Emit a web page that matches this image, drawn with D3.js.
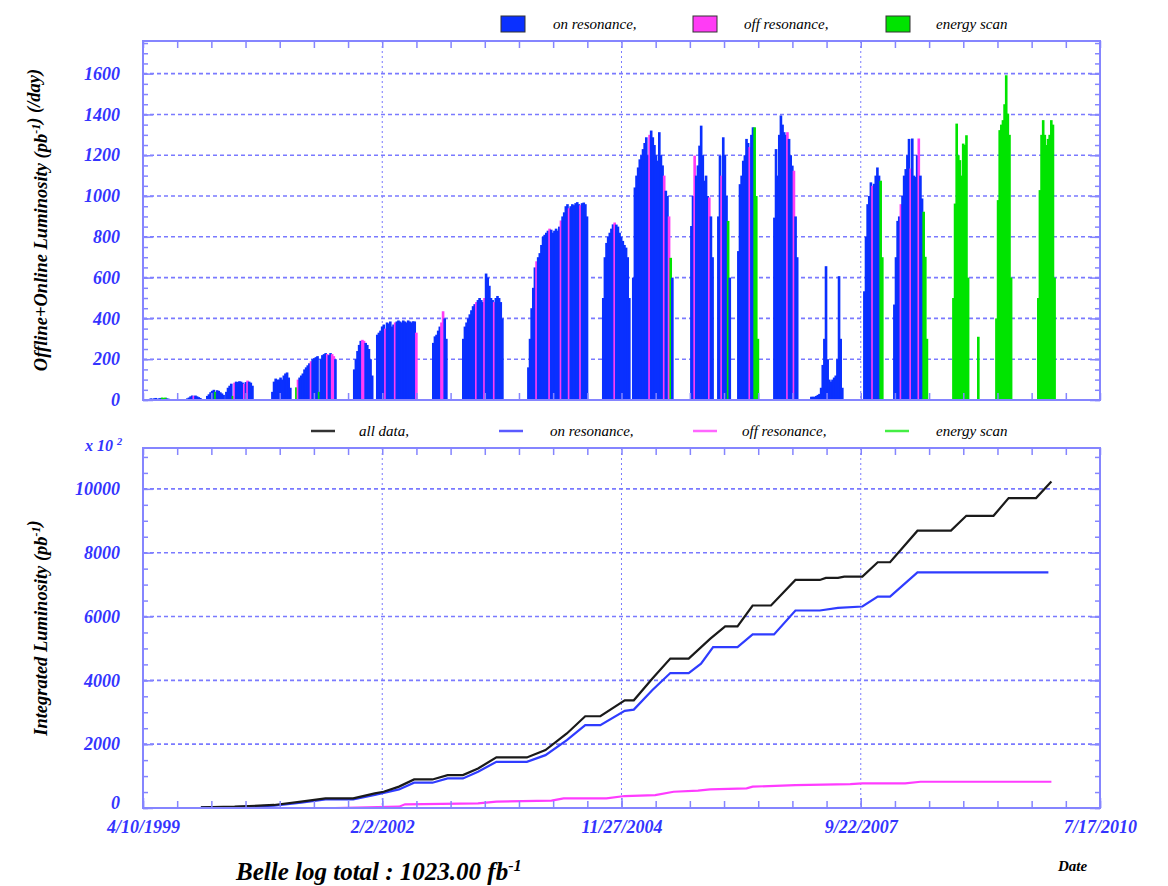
<!DOCTYPE html>
<html>
<head>
<meta charset="utf-8">
<script src="https://cdn.jsdelivr.net/npm/d3@7"></script>
<style>
  body { margin: 0; background: #fff; }
  text { font-family: "Liberation Serif", "Times New Roman", serif; font-style: italic; }
</style>
</head>
<body>
<div id="chart"></div>
<script>
// ---- daily luminosity, one value per week inside each running period ----
// b = on resonance, m = off resonance, g = energy scan
const runStarts = ["1999-05-01", "1999-10-12", "2000-01-06", "2000-03-28", "2000-10-12", "2001-01-23",
  "2001-09-29", "2002-01-06", "2002-09-04", "2003-01-11", "2003-10-18", "2004-09-04", "2005-01-11",
  "2005-09-18", "2006-01-12", "2006-04-08", "2006-09-10", "2007-02-16", "2007-10-02", "2008-02-08",
  "2008-10-19", "2009-02-03", "2009-04-22", "2009-10-19"];

const runValues = [
  [5, 8, 6, 8, 10, 6, 8, 10, 12, 10, 12, 8, 6],
  [8, 12, 18, 22, 20, 22, 18, 14, 10],
  [20, 28, 38, 45, 50, 40, 48, 45, 38, 32, 25],
  [40, 60, 70, 80, 20, 85, 90, 88, 92, 90, 85, 80, 88, 95, 90, 85, 70],
  [40, 90, 105, 100, 100, 110, 100, 120, 130, 135, 110, 60],
  [62, 100, 110, 120, 130, 150, 160, 170, 180, 190, 200, 205, 210, 215, 40, 200, 220, 225, 230, 225, 220, 230, 225, 215, 200],
  [150, 200, 240, 270, 290, 295, 290, 280, 270, 250, 200, 120],
  [320, 330, 340, 360, 370, 350, 380, 375, 385, 360, 370, 380, 385, 390, 385, 380, 390, 385, 380, 390, 385, 380, 386, 385, 330],
  [280, 312, 320, 340, 360, 380, 435, 400, 300],
  [300, 360, 380, 400, 420, 440, 460, 470, 480, 490, 500, 490, 480, 500, 620, 600, 560, 500, 490, 480, 500, 510, 500, 480, 400],
  [160, 300, 450, 550, 650, 680, 700, 720, 760, 800, 810, 820, 830, 840, 835, 820, 830, 840, 830, 850, 880, 900, 920, 950, 960, 940, 950, 960, 955, 965, 970, 960, 955, 965, 968, 960, 900],
  [500, 700, 770, 800, 820, 840, 861, 870, 860, 850, 820, 800, 780, 760, 747, 700, 500],
  [600, 1042, 1100, 1140, 1180, 1200, 1230, 1260, 1288, 1200, 1300, 1321, 1288, 1250, 1200, 1173, 1313, 1200, 1150, 1100, 1026, 1000, 900, 697, 600],
  [853, 1000, 1198, 1100, 1150, 1247, 1345, 1200, 1075, 1100, 1000, 993, 900, 700],
  [900, 1198, 1100, 1288, 1200, 1000, 878, 600],
  [730, 1058, 1100, 1173, 1200, 1280, 1260, 1240, 1300, 1337, 1337, 1000, 300],
  [894, 1230, 1100, 1300, 1395, 1350, 1313, 1300, 1313, 1280, 1200, 1149, 1124, 900, 700],
  [16, 16, 16, 20, 25, 30, 60, 172, 300, 656, 200, 100, 90, 100, 110, 120, 200, 607, 300, 60],
  [533, 800, 960, 1000, 1067, 1050, 1060, 1100, 1140, 1100, 1075, 700],
  [468, 700, 878, 900, 960, 1000, 1100, 1132, 1200, 1280, 1135, 1282, 1100, 1094, 1200, 1282, 1100, 988, 923, 702, 300],
  [500, 963, 1355, 1200, 1176, 1100, 1257, 1250, 1298, 600],
  [310],
  [400, 980, 1323, 1350, 1372, 1450, 1592, 1404, 1300, 600],
  [500, 1029, 1300, 1372, 1300, 1250, 1280, 1300, 1372, 1350, 600]
];

const runTypes = [
  "bbbbbbbbgggbb", "bbbbmbbbb", "bbbbbgbbbbb", "bbbbgmbbbbbmbmbbb", "bbbbbbbbbbbb",
  "gmbbbbbbbmbbbbgbbbbmbbmmb", "bbbbbmmbbbbb", "bbbbbmbbbbbmbbbbbbbbbbbbm", "bbbbbmmbb",
  "bbbbbbbbmbbbbmbbbbbmbbbbb", "bbbbbmbbbbbbbmbbbbbbmbbbbmbbbbbbmbbbb", "bbbbbbbmbbbbbbbbb",
  "bbbbbbbbbbmbbbbbbbbmbbmgb", "bbmbbbbbbbbmbb", "bbmbbbgb", "bbbbbbbmbbggg", "bbbbbbbbmbbbmbb",
  "bbbbbbbbbbbbbbbbbbbb", "bbbbbmbbbbgg", "bbbbmbbbbbmbbbbmbbggg", "gggggggggg", "g",
  "gggggggggg", "ggggggggggg"
];

// ---- integrated luminosity (x 10^2 pb^-1) ----
const allData = [["1999-12-15", 20], ["2000-05-08", 40], ["2000-10-25", 95], ["2001-02-18", 200],
  ["2001-06-03", 300], ["2001-09-30", 300], ["2002-01-01", 460], ["2002-02-08", 510], ["2002-04-15", 670],
  ["2002-06-19", 895], ["2002-09-06", 895], ["2002-11-10", 1030], ["2003-01-15", 1030], ["2003-03-21", 1240],
  ["2003-06-08", 1585], ["2003-10-17", 1585], ["2004-01-05", 1815], ["2004-04-06", 2335], ["2004-06-24", 2875],
  ["2004-08-28", 2875], ["2004-12-11", 3375], ["2005-01-19", 3375], ["2005-04-08", 4050], ["2005-06-25", 4680],
  ["2005-09-12", 4680], ["2005-12-13", 5300], ["2006-02-16", 5690], ["2006-04-10", 5690], ["2006-06-14", 6345],
  ["2006-09-01", 6345], ["2006-12-15", 7145], ["2007-03-30", 7145], ["2007-04-25", 7210], ["2007-06-16", 7210],
  ["2007-07-13", 7250], ["2007-09-29", 7250], ["2007-12-04", 7700], ["2008-01-26", 7700], ["2008-05-23", 8690],
  ["2008-10-14", 8690], ["2008-12-19", 9155], ["2009-04-15", 9155], ["2009-06-19", 9710], ["2009-10-15", 9710],
  ["2009-12-20", 10230]];

const onResonance = [["1999-12-15", 20], ["2000-05-08", 30], ["2000-10-25", 73], ["2001-02-18", 167],
  ["2001-06-03", 271], ["2001-09-30", 271], ["2002-01-01", 406], ["2002-04-15", 583], ["2002-06-19", 792],
  ["2002-09-06", 792], ["2002-11-10", 927], ["2003-01-15", 927], ["2003-03-21", 1135], ["2003-06-08", 1448],
  ["2003-10-17", 1448], ["2004-01-05", 1656], ["2004-04-06", 2125], ["2004-06-24", 2594], ["2004-08-28", 2594],
  ["2004-12-11", 3042], ["2005-01-19", 3083], ["2005-04-08", 3688], ["2005-06-25", 4229], ["2005-09-12", 4229],
  ["2005-11-04", 4521], ["2005-12-26", 5042], ["2006-04-10", 5042], ["2006-06-14", 5438], ["2006-09-14", 5438],
  ["2006-12-15", 6188], ["2007-03-30", 6188], ["2007-06-16", 6271], ["2007-09-29", 6313], ["2007-12-04", 6625],
  ["2008-01-26", 6625], ["2008-05-23", 7385], ["2009-12-07", 7385]];

const offResonance = [["1999-07-24", 0], ["2001-07-13", 0], ["2002-04-15", 42], ["2002-05-11", 115],
  ["2003-03-21", 146], ["2003-06-08", 198], ["2004-01-31", 229], ["2004-03-23", 302], ["2004-09-23", 302],
  ["2004-12-11", 375], ["2005-04-21", 406], ["2005-07-09", 510], ["2005-10-22", 542], ["2005-12-13", 583],
  ["2006-05-19", 615], ["2006-06-14", 667], ["2006-12-15", 719], ["2007-08-08", 750], ["2007-09-29", 771],
  ["2008-03-31", 771], ["2008-06-05", 823], ["2009-12-20", 823]];

const yTicksTop = [0, 200, 400, 600, 800, 1000, 1200, 1400, 1600];
const yTicksBottom = [0, 2000, 4000, 6000, 8000, 10000];
const dateTicks = ["4/10/1999", "2/2/2002", "11/27/2004", "9/22/2007", "7/17/2010"];

// ---- layout ----
const left = 143, right = 1100;
const top1 = 41, bot1 = 400, top2 = 448, bot2 = 808;
const axisColor = "#8585ff", labelColor = "#3434ff";
const colors = {b: "#0a30ff", m: "#ff3cf5", g: "#00e400"};

const parseTick = d3.timeParse("%m/%d/%Y");
const parseDay = d3.timeParse("%Y-%m-%d");
const majorDates = dateTicks.map(parseTick);
// 7 minor intervals between labelled dates
const minorDates = d3.range(0, 29).map(i => d3.timeDay.offset(majorDates[0], i * 147));

const x = d3.scaleTime().domain([majorDates[0], majorDates[4]]).range([left, right]);
const yTop = d3.scaleLinear().domain([0, 1760]).range([bot1, top1]);
const yBot = d3.scaleLinear().domain([0, 11280]).range([bot2, top2]);

const svg = d3.select("#chart").append("svg")
  .attr("width", 1168)
  .attr("height", 886);

function drawGrid(y, yt, yTopPx, yBotPx) {
  const g = svg.append("g").attr("class", "grid");
  g.selectAll(".hgrid")
    .data(yt.filter(v => v > 0))
    .join("line")
    .attr("x1", left).attr("x2", right)
    .attr("y1", d => y(d)).attr("y2", d => y(d))
    .attr("stroke", "#7a7aff").attr("stroke-width", 1.6)
    .attr("stroke-dasharray", "4,3");
  g.selectAll(".vgrid")
    .data(majorDates.slice(1, 4))
    .join("line")
    .attr("x1", d => x(d)).attr("x2", d => x(d))
    .attr("y1", yTopPx).attr("y2", yBotPx)
    .attr("stroke", "#7a7aff").attr("stroke-width", 1)
    .attr("stroke-dasharray", "2,3");
}

function drawFrame(y, yt, minorStep, yTopPx, yBotPx, showDates) {
  const g = svg.append("g").attr("class", "frame");

  // minor ticks, all pointing inside
  g.append("g").attr("transform", `translate(0,${yBotPx})`)
    .call(d3.axisBottom(x).tickValues(minorDates).tickSize(-7).tickFormat(""));
  g.append("g").attr("transform", `translate(0,${yTopPx})`)
    .call(d3.axisTop(x).tickValues(minorDates).tickSize(-7).tickFormat(""));
  const yMinor = d3.range(0, y.domain()[1], minorStep);
  g.append("g").attr("transform", `translate(${left},0)`)
    .call(d3.axisLeft(y).tickValues(yMinor).tickSize(-5).tickFormat(""));
  g.append("g").attr("transform", `translate(${right},0)`)
    .call(d3.axisRight(y).tickValues(yMinor).tickSize(-5).tickFormat(""));

  // major ticks with labels
  const yl = g.append("g").attr("class", "ylab").attr("transform", `translate(${left},0)`)
    .call(d3.axisLeft(y).tickValues(yt).tickSize(-10).tickPadding(23).tickFormat(d3.format("d")));
  g.append("g").attr("transform", `translate(${right},0)`)
    .call(d3.axisRight(y).tickValues(yt).tickSize(-10).tickFormat(""));

  if (showDates) {
    // the zero label sits a little higher so it clears the first date
    yl.selectAll(".tick text").filter(d => d === 0).attr("dy", "0.05em");
    g.append("g").attr("class", "xlab").attr("transform", `translate(0,${yBotPx})`)
      .call(d3.axisBottom(x).tickValues(majorDates).tickSize(-10).tickPadding(12)
        .tickFormat((d, i) => dateTicks[i]));
  }

  g.selectAll(".domain").remove();
  g.selectAll(".tick line").attr("stroke", axisColor).attr("stroke-width", 1.5);
  g.selectAll(".tick text")
    .attr("fill", labelColor)
    .style("font-size", "18px")
    .style("font-weight", "bold");

  g.append("rect")
    .attr("x", left).attr("y", yTopPx)
    .attr("width", right - left).attr("height", yBotPx - yTopPx)
    .attr("fill", "none").attr("stroke", axisColor).attr("stroke-width", 2);
}

// ---- top panel: daily luminosity bars ----
drawGrid(yTop, yTicksTop, top1, bot1);

const bars = [];
runStarts.forEach((s, r) => {
  const start = parseDay(s);
  runValues[r].forEach((v, i) => {
    bars.push({date: d3.timeDay.offset(start, i * 7), value: v, type: runTypes[r][i]});
  });
});

svg.append("g").attr("class", "bars")
  .selectAll("rect")
  .data(bars)
  .join("rect")
  .attr("x", d => x(d.date))
  .attr("width", d => x(d3.timeDay.offset(d.date, 7)) - x(d.date) + 1)
  .attr("y", d => yTop(d.value))
  .attr("height", d => bot1 - yTop(d.value))
  .attr("fill", d => colors[d.type]);

drawFrame(yTop, yTicksTop, 50, top1, bot1, false);

// ---- bottom panel: integrated luminosity ----
drawGrid(yBot, yTicksBottom, top2, bot2);

const line = d3.line()
  .x(d => x(parseDay(d[0])))
  .y(d => yBot(d[1]));

const lineSeries = [
  {data: offResonance, color: "#ff3cff"},
  {data: onResonance, color: "#2f3cff"},
  {data: allData, color: "#1a1a1a"}
];
svg.append("g").attr("class", "lines")
  .selectAll("path")
  .data(lineSeries)
  .join("path")
  .attr("d", d => line(d.data))
  .attr("fill", "none")
  .attr("stroke", d => d.color)
  .attr("stroke-width", 2.2);

drawFrame(yBot, yTicksBottom, 500, top2, bot2, true);

// ---- legends ----
const legendTop = [
  {box: 501, text: 553, label: "on resonance,", color: colors.b},
  {box: 693, text: 744, label: "off resonance,", color: colors.m},
  {box: 886, text: 936, label: "energy scan", color: colors.g}
];
const lt = svg.append("g").attr("class", "legendTop");
lt.selectAll("rect").data(legendTop).join("rect")
  .attr("x", d => d.box).attr("y", 16).attr("width", 24).attr("height", 16)
  .attr("fill", d => d.color).attr("stroke", "#333").attr("stroke-width", 1);
lt.selectAll("text").data(legendTop).join("text")
  .attr("x", d => d.text).attr("y", 29)
  .style("font-size", "15px")
  .text(d => d.label);

const legendBottom = [
  {line: 311, text: 359, label: "all data,", color: "#333"},
  {line: 499, text: 550, label: "on resonance,", color: "#5a5aff"},
  {line: 693, text: 742, label: "off resonance,", color: "#ff66ff"},
  {line: 885, text: 936, label: "energy scan", color: "#44ee44"}
];
const lb = svg.append("g").attr("class", "legendBottom");
lb.selectAll("line").data(legendBottom).join("line")
  .attr("x1", d => d.line).attr("x2", d => d.line + 24)
  .attr("y1", 431).attr("y2", 431)
  .attr("stroke", d => d.color).attr("stroke-width", 2.5);
lb.selectAll("text").data(legendBottom).join("text")
  .attr("x", d => d.text).attr("y", 436)
  .style("font-size", "15px")
  .text(d => d.label);

// ---- axis titles and notes ----
function supText(sel, parts) {
  parts.forEach(p => {
    if (p.sup) {
      sel.append("tspan").attr("dy", "-0.55em").style("font-size", "0.65em").text(p.sup);
      sel.append("tspan").attr("dy", "0.55em").text("");
    } else {
      sel.append("tspan").text(p.t);
    }
  });
}

const t1 = svg.append("text")
  .attr("transform", "translate(47,220) rotate(-90)")
  .attr("text-anchor", "middle")
  .style("font-size", "18.5px").style("font-weight", "bold");
supText(t1, [{t: "Offline+Online Luminosity (pb"}, {sup: "-1"}, {t: ") (/day)"}]);

const t2 = svg.append("text")
  .attr("transform", "translate(47,628) rotate(-90)")
  .attr("text-anchor", "middle")
  .style("font-size", "18.5px").style("font-weight", "bold");
supText(t2, [{t: "Integrated Luminosity (pb"}, {sup: "-1"}, {t: ")"}]);

const t3 = svg.append("text")
  .attr("x", 85).attr("y", 451)
  .attr("fill", labelColor)
  .style("font-size", "16px").style("font-weight", "bold");
supText(t3, [{t: "x 10 "}, {sup: "2"}]);

const t4 = svg.append("text")
  .attr("x", 236).attr("y", 880)
  .style("font-size", "25px").style("font-weight", "bold");
supText(t4, [{t: "Belle log total : 1023.00 fb"}, {sup: "-1"}]);

svg.append("text")
  .attr("x", 1058).attr("y", 871)
  .style("font-size", "15px").style("font-weight", "bold")
  .text("Date");
</script>
</body>
</html>
